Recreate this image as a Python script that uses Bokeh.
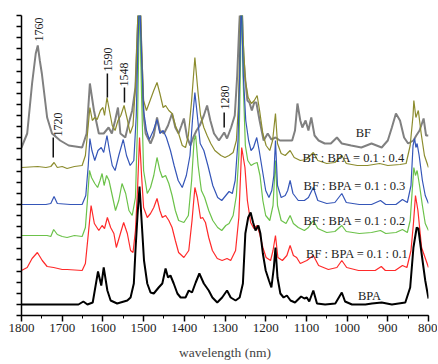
import numpy as np
from bokeh.plotting import figure
from bokeh.models import Range1d, SingleIntervalTicker, CustomJSTickFormatter
from bokeh.core.properties import value
from bokeh.embed import file_html
from bokeh.resources import INLINE

# ---------------- data (wavelength in nm, intensity in arbitrary units) ----------------
wl_bpa = [1800, 1700, 1660, 1648, 1638, 1625, 1612, 1604, 1598, 1589, 1581, 1565, 1540, 1532, 1524,
          1520, 1515, 1510, 1503, 1499, 1491, 1483, 1475, 1463, 1454, 1446, 1440, 1434, 1426, 1417,
          1409, 1397, 1389, 1381, 1372, 1363, 1352, 1340, 1331, 1319, 1307, 1295, 1286, 1274, 1264,
          1256, 1250, 1243, 1237, 1231, 1225, 1218, 1213, 1207, 1200, 1192, 1186, 1180, 1176, 1171,
          1164, 1156, 1148, 1139, 1128, 1113, 1105, 1099, 1093, 1083, 1074, 1054, 1029, 1013, 1005,
          988, 955, 939, 915, 890, 857, 845, 837, 829, 825, 817, 808, 800]
i_bpa = [11, 11, 11, 14, 11, 13, 44, 30, 48, 25, 15, 12, 15, 18, 32,
         65, 100, 129, 82, 55, 32, 23, 22, 28, 32, 47, 38, 40, 32, 22,
         18, 18, 25, 23, 33, 42, 32, 25, 18, 13, 18, 25, 18, 15, 18,
         32, 82, 98, 103, 93, 85, 90, 82, 62, 45, 35, 28, 48, 68, 38,
         22, 18, 20, 15, 13, 19, 17, 18, 14, 25, 12, 11, 12, 23, 14,
         11, 11, 12, 13, 11, 13, 28, 68, 88, 87, 62, 35, 17]

wl_r1 = [1800, 1786, 1774, 1761, 1749, 1737, 1721, 1700, 1688, 1651, 1643, 1635, 1629, 1621, 1610,
         1602, 1596, 1589, 1581, 1573, 1567, 1557, 1549, 1540, 1532, 1526, 1520, 1515, 1510, 1505,
         1500, 1491, 1483, 1475, 1467, 1460, 1454, 1446, 1438, 1430, 1422, 1414, 1401, 1389, 1381,
         1374, 1368, 1360, 1355, 1348, 1340, 1331, 1319, 1307, 1295, 1286, 1274, 1266, 1259, 1251,
         1245, 1237, 1229, 1221, 1215, 1207, 1199, 1188, 1182, 1176, 1170, 1159, 1148, 1140, 1132,
         1124, 1115, 1099, 1083, 1070, 1046, 1025, 1013, 1001, 972, 931, 916, 906, 882, 864,
         853, 843, 837, 832, 826, 817, 800]
i_r1 = [45, 48, 57, 63, 55, 49, 48, 46, 46, 45, 52, 85, 110, 92, 85,
        90, 87, 98, 88, 82, 68, 82, 93, 82, 65, 63, 85, 125, 178, 140,
        108, 98, 102, 108, 117, 105, 98, 100, 95, 88, 75, 63, 58, 65, 95,
        128, 118, 97, 98, 93, 78, 65, 57, 55, 57, 55, 65, 98, 168, 148,
        115, 93, 87, 90, 82, 68, 58, 55, 65, 80, 58, 55, 60, 70, 60,
        58, 52, 55, 60, 50, 46, 48, 55, 48, 45, 45, 49, 45, 45, 50,
        48, 65, 92, 120, 105, 68, 48]

wl_r2 = [1800, 1760, 1737, 1728, 1721, 1712, 1700, 1688, 1670, 1651, 1643, 1638, 1633, 1628, 1620,
         1613, 1607, 1602, 1597, 1591, 1585, 1577, 1569, 1561, 1553, 1544, 1536, 1528, 1520, 1515,
         1510, 1505, 1500, 1491, 1483, 1475, 1467, 1460, 1454, 1446, 1438, 1430, 1422, 1414, 1401,
         1390, 1382, 1376, 1372, 1366, 1358, 1350, 1340, 1330, 1318, 1308, 1298, 1290, 1280, 1272,
         1266, 1262, 1259, 1255, 1250, 1244, 1236, 1228, 1221, 1214, 1207, 1200, 1190, 1182, 1176,
         1171, 1162, 1150, 1140, 1132, 1120, 1105, 1095, 1083, 1072, 1050, 1030, 1013, 1002, 970,
         940, 918, 905, 880, 864, 852, 845, 840, 836, 832, 828, 822, 815, 808, 800]
i_r2 = [80, 80, 80, 79, 86, 81, 79, 78, 80, 79, 88, 115, 145, 138, 132,
        128, 135, 142, 130, 140, 135, 120, 105, 115, 132, 122, 105, 100, 118, 190,
        320, 220, 145, 122, 128, 140, 158, 145, 138, 140, 132, 120, 105, 95, 93,
        100, 135, 175, 180, 150, 125, 118, 105, 95, 88, 85, 90, 92, 100, 120,
        160, 250, 320, 230, 170, 155, 150, 152, 153, 140, 115, 100, 95, 110, 155,
        110, 95, 92, 100, 92, 88, 85, 88, 95, 87, 83, 84, 90, 84, 82,
        83, 85, 82, 83, 86, 83, 95, 125, 148, 140, 145, 130, 110, 92, 85]

wl_r3 = [1800, 1740, 1728, 1720, 1712, 1680, 1651, 1642, 1636, 1632, 1627, 1620, 1612, 1604, 1598,
         1590, 1584, 1577, 1570, 1561, 1550, 1542, 1533, 1524, 1518, 1514, 1510, 1505, 1500, 1493,
         1486, 1476, 1467, 1460, 1452, 1444, 1434, 1425, 1415, 1405, 1395, 1386, 1380, 1374, 1368,
         1361, 1352, 1342, 1330, 1318, 1308, 1298, 1290, 1282, 1275, 1268, 1264, 1260, 1255, 1249,
         1242, 1236, 1230, 1222, 1216, 1208, 1200, 1192, 1185, 1180, 1176, 1171, 1162, 1152, 1146,
         1140, 1133, 1120, 1105, 1095, 1083, 1072, 1050, 1030, 1013, 1002, 970, 940, 918, 905,
         880, 864, 852, 843, 838, 834, 831, 828, 823, 815, 808, 800]
i_r3 = [111, 111, 112, 119, 112, 111, 111, 120, 150, 177, 165, 155, 165, 168, 163,
        180, 165, 150, 145, 160, 176, 160, 150, 155, 200, 270, 320, 260, 205, 185,
        176, 185, 196, 182, 185, 178, 165, 150, 135, 128, 140, 160, 195, 223, 200,
        172, 165, 150, 130, 118, 115, 120, 124, 122, 135, 175, 240, 320, 240, 195,
        175, 165, 168, 178, 165, 145, 125, 118, 125, 140, 175, 130, 118, 120, 125,
        135, 122, 115, 115, 118, 128, 115, 112, 113, 122, 113, 111, 111, 115, 111,
        111, 116, 113, 130, 170, 177, 168, 172, 160, 135, 120, 112]

wl_r4 = [1800, 1760, 1740, 1728, 1720, 1712, 1700, 1688, 1670, 1651, 1643, 1636, 1632, 1626, 1620,
         1614, 1606, 1600, 1596, 1590, 1584, 1577, 1570, 1563, 1556, 1548, 1540, 1533, 1526, 1520,
         1515, 1510, 1505, 1500, 1493, 1484, 1475, 1467, 1460, 1452, 1446, 1438, 1430, 1422, 1414,
         1405, 1397, 1390, 1382, 1374, 1366, 1360, 1352, 1344, 1335, 1325, 1310, 1300, 1290, 1280,
         1272, 1267, 1263, 1260, 1256, 1250, 1243, 1235, 1228, 1221, 1215, 1207, 1199, 1190, 1183,
         1176, 1171, 1162, 1152, 1140, 1130, 1115, 1100, 1083, 1072, 1050, 1030, 1013, 1002, 975,
         950, 920, 900, 870, 855, 845, 838, 836, 831, 825, 818, 810, 800]
i_r4 = [148, 149, 148, 149, 153, 148, 149, 147, 149, 150, 160, 190, 208, 195, 198,
        196, 205, 208, 200, 218, 205, 190, 185, 195, 200, 210, 196, 182, 190, 230,
        290, 340, 270, 215, 205, 215, 225, 233, 222, 208, 210, 205, 202, 190, 182,
        170, 168, 180, 215, 258, 222, 200, 188, 180, 172, 165, 160, 158, 160, 163,
        175, 210, 280, 340, 280, 235, 218, 212, 215, 220, 205, 182, 170, 165, 175,
        202, 172, 162, 160, 165, 158, 155, 156, 163, 155, 152, 153, 160, 152, 150,
        150, 152, 150, 151, 152, 170, 200, 215, 198, 205, 182, 160, 148]

wl_bf = [1800, 1786, 1774, 1765, 1760, 1755, 1750, 1737, 1725, 1705, 1684, 1651, 1640, 1632, 1622,
         1610, 1598, 1586, 1578, 1570, 1563, 1557, 1545, 1538, 1528, 1520, 1515, 1510, 1505, 1500,
         1495, 1483, 1475, 1467, 1460, 1450, 1440, 1430, 1422, 1414, 1407, 1401, 1393, 1385, 1378,
         1370, 1362, 1352, 1344, 1336, 1327, 1315, 1302, 1295, 1285, 1276, 1270, 1265, 1260, 1255,
         1250, 1245, 1240, 1234, 1228, 1223, 1215, 1205, 1195, 1186, 1176, 1165, 1150, 1135, 1128,
         1122, 1115, 1110, 1102, 1095, 1088, 1080, 1070, 1055, 1040, 1025, 1013, 990, 965, 940,
         915, 900, 890, 880, 870, 860, 850, 837, 830, 822, 812, 806, 800]
i_bf = [168, 182, 232, 262, 270, 255, 242, 198, 182, 175, 170, 168, 182, 232, 205,
        182, 182, 188, 182, 195, 208, 182, 178, 190, 205, 228, 280, 330, 260, 200,
        182, 172, 180, 198, 185, 182, 190, 202, 188, 182, 190, 197, 178, 170, 178,
        185, 190, 200, 210, 195, 182, 175, 183, 177, 188, 200, 240, 290, 330, 260,
        235, 215, 213, 205, 213, 213, 195, 175, 182, 176, 178, 175, 175, 175, 185,
        212, 195, 188, 195, 185, 198, 180, 175, 172, 172, 178, 172, 170, 168, 172,
        168, 175, 188, 202, 195, 178, 172, 175, 180, 185, 197, 180, 180]

series_names = ["BF", "BF : BPA = 0.1 : 0.4", "BF : BPA = 0.1 : 0.3",
                "BF : BPA = 0.1 : 0.2", "BF : BPA = 0.1 : 0.1", "BPA"]
name_wl = [960, 984, 981, 981, 975, 945]
name_int = [183, 158, 130, 95, 62, 20]

peak_labels = ["1760", "1720", "1590", "1548", "1280"]
peak_label_wl = [1758, 1711, 1588, 1547, 1300]
peak_label_int = [286, 191, 256, 241, 218]
marker_wl = [1722, 1589, 1547, 1302]
marker_lo = [158, 218, 213, 188]
marker_hi = [178, 242, 228, 203]

# ---------------- figure ----------------
FONT = "Liberation Serif"
p = figure(frame_width=407, frame_height=300, output_backend="svg", toolbar_location=None,
           x_range=Range1d(1800, 800), y_range=Range1d(0, 300),
           min_border_left=21, min_border_right=9, min_border_top=15, min_border_bottom=0)
p.outline_line_color = None
p.grid.visible = False
p.background_fill_color = "white"
p.border_fill_color = "white"

p.xaxis.ticker = SingleIntervalTicker(interval=100, num_minor_ticks=2)
p.xaxis.major_tick_in = 0
p.xaxis.major_tick_out = 6
p.xaxis.minor_tick_in = 0
p.xaxis.minor_tick_out = 3
p.xaxis.axis_line_width = 1.5
p.xaxis.major_tick_line_width = 1.5
p.xaxis.major_label_standoff = 2
p.xaxis.major_label_text_font = FONT
p.xaxis.major_label_text_font_size = "13px"
p.xaxis.major_label_text_color = "#222222"
p.xaxis.axis_label = "wavelength (nm)"
p.xaxis.axis_label_text_font = FONT
p.xaxis.axis_label_text_font_size = "13.5px"
p.xaxis.axis_label_text_font_style = "normal"
p.xaxis.axis_label_standoff = 10

p.yaxis.ticker = SingleIntervalTicker(interval=300 / 27, num_minor_ticks=0)
p.yaxis.major_tick_in = 0
p.yaxis.major_tick_out = 5
p.yaxis.minor_tick_out = 0
p.yaxis.axis_line_width = 1.5
p.yaxis.major_tick_line_width = 1.5
p.yaxis.formatter = CustomJSTickFormatter(code="return ''")
p.yaxis.major_label_standoff = 0

series = [
    (wl_bf, i_bf, "#808080", 2.0),
    (wl_r4, i_r4, "#8c8c2e", 1.2),
    (wl_r2, i_r2, "#6cc24a", 1.2),
    (wl_r3, i_r3, "#3556b8", 1.2),
    (wl_r1, i_r1, "#ff2a2a", 1.2),
    (wl_bpa, i_bpa, "#000000", 2.0),
]
for xs, ys, col, w in series:
    p.line(xs, ys, line_color=col, line_width=w)

p.text(x=name_wl, y=name_int, text=series_names, text_font=value(FONT),
       text_font_size="12.5px", text_align="center", text_baseline="middle",
       text_color="#222222")

p.text(x=peak_label_wl, y=peak_label_int, text=peak_labels, angle=np.pi / 2,
       text_font=value(FONT), text_font_size="12px", text_align="center",
       text_baseline="middle", text_color="#222222")
p.segment(x0=marker_wl, y0=marker_lo, x1=marker_wl, y1=marker_hi,
          line_color="#111111", line_width=1.5)

open("out.html", "w").write(file_html(p, INLINE))
